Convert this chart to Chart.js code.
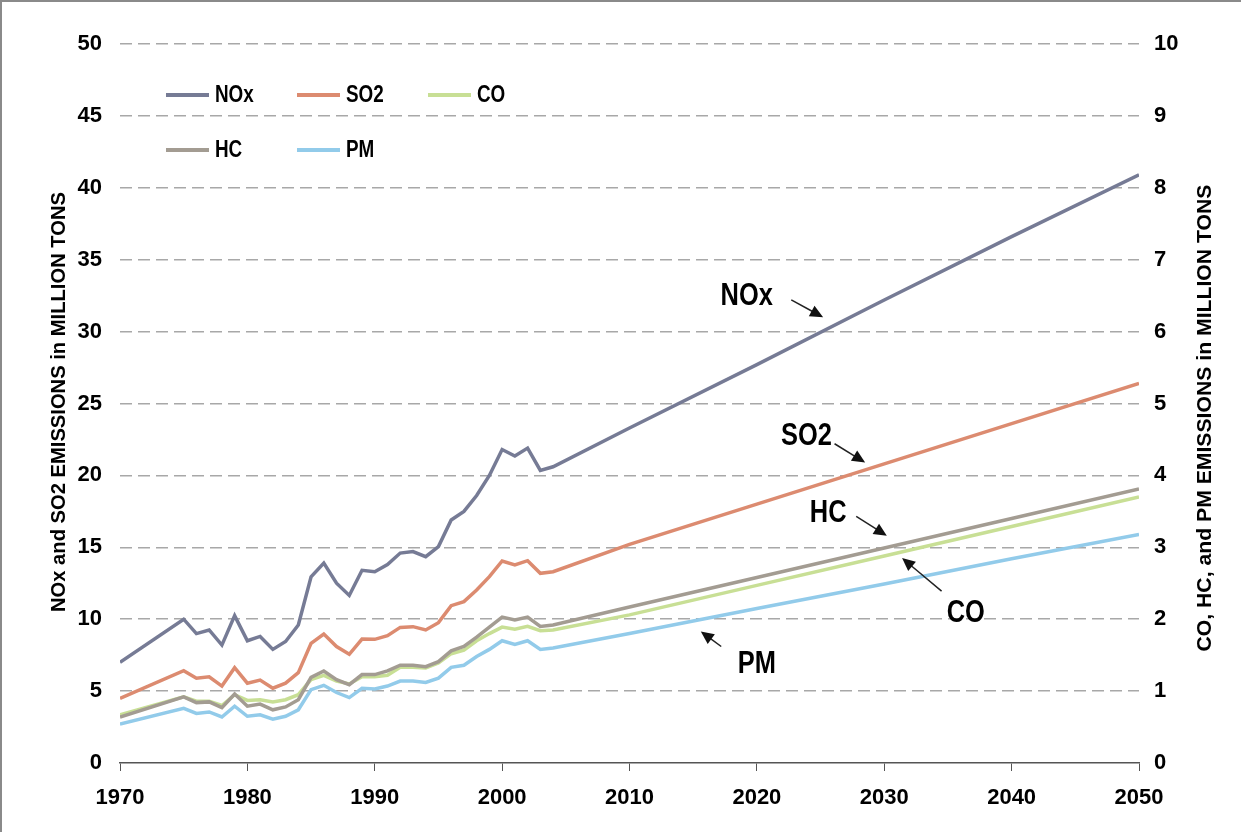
<!DOCTYPE html>
<html>
<head>
<meta charset="utf-8">
<script src="https://cdn.jsdelivr.net/npm/chart.js@4.4.1/dist/chart.umd.min.js"></script>
<style>
  html, body { margin: 0; padding: 0; background: #fff; }
  #wrap {
    position: relative;
    width: 1241px;
    height: 832px;
    box-sizing: border-box;
    border-top: 2px solid #8a8a8a;
    border-left: 2px solid #8a8a8a;
  }
</style>
</head>
<body>
<div id="wrap">
  <canvas id="emissions-chart" width="1239" height="830"></canvas>
</div>
<script>
const years = [
  1970, 1975, 1976, 1977, 1978, 1979, 1980, 1981, 1982, 1983, 1984,
  1985, 1986, 1987, 1988, 1989, 1990, 1991, 1992, 1993, 1994,
  1995, 1996, 1997, 1998, 1999, 2000, 2001, 2002, 2003, 2004,
  2010, 2020, 2030, 2040, 2050
];

// left axis, million tons
const noxValues = [
  7.0, 10.0, 9.0, 9.25, 8.2, 10.25, 8.5, 8.8, 7.9, 8.45, 9.6,
  12.95, 13.9, 12.5, 11.65, 13.4, 13.3, 13.8, 14.6, 14.7, 14.35,
  15.05, 16.9, 17.5, 18.6, 20.0, 21.8, 21.35, 21.9, 20.35, 20.6,
  23.3, 27.7, 32.2, 36.6, 40.9
];
const so2Values = [
  4.5, 6.42, 5.9, 6.0, 5.35, 6.63, 5.55, 5.77, 5.2, 5.55, 6.28,
  8.32, 8.97, 8.1, 7.56, 8.62, 8.6, 8.85, 9.43, 9.48, 9.25,
  9.76, 10.94, 11.22, 12.03, 12.96, 14.05, 13.77, 14.07, 13.19, 13.3,
  15.2, 18.0, 20.8, 23.6, 26.4
];

// right axis, million tons
const hcValues = [
  0.64, 0.92, 0.84, 0.85, 0.77, 0.96, 0.79, 0.82, 0.74, 0.78, 0.88,
  1.19, 1.28, 1.16, 1.09, 1.23, 1.23, 1.28, 1.36, 1.36, 1.34,
  1.41, 1.56, 1.62, 1.75, 1.89, 2.03, 1.99, 2.03, 1.90, 1.92,
  2.17, 2.58, 2.99, 3.40, 3.81
];
const coValues = [
  0.67, 0.92, 0.86, 0.86, 0.80, 0.95, 0.87, 0.88, 0.85, 0.88, 0.95,
  1.16, 1.22, 1.14, 1.10, 1.20, 1.20, 1.22, 1.33, 1.33, 1.32,
  1.39, 1.52, 1.57, 1.70, 1.80, 1.89, 1.86, 1.90, 1.84, 1.85,
  2.06, 2.47, 2.88, 3.29, 3.70
];
const pmValues = [
  0.54, 0.76, 0.69, 0.71, 0.64, 0.79, 0.65, 0.67, 0.61, 0.65, 0.74,
  1.02, 1.08, 0.98, 0.91, 1.04, 1.03, 1.07, 1.14, 1.14, 1.12,
  1.18, 1.33, 1.36, 1.48, 1.58, 1.70, 1.65, 1.70, 1.58, 1.60,
  1.80, 2.15, 2.49, 2.84, 3.18
];

const leftTitle = "NOx and SO2 EMISSIONS in MILLION TONS";
const rightTitle = "CO, HC, and PM EMISSIONS in MILLION TONS";

const FONT = "'Liberation Sans', Arial, sans-serif";
const NARROW = 0.82; // squeeze to look like a narrow face

function points(values) {
  return years.map(function(year, i) {
    return { x: year, y: values[i] };
  });
}

function series(label, values, color, axis) {
  return {
    label: label,
    data: points(values),
    borderColor: color,
    backgroundColor: color,
    borderWidth: 3.5,
    pointRadius: 0,
    tension: 0,
    yAxisID: axis
  };
}

// legend grid: [dataset label, column, row]
const legendLayout = [
  ["NOx", 0, 0], ["SO2", 1, 0], ["CO", 2, 0],
  ["HC", 0, 1], ["PM", 1, 1]
];

// callouts in data coordinates: text position, arrow start, arrow tip
const callouts = [
  { text: "NOx", axis: "y",  at: [2019.2, 32.5], from: [2022.7, 32.2], to: [2025.2, 31.0] },
  { text: "SO2", axis: "y",  at: [2023.9, 22.8], from: [2026.1, 22.2], to: [2028.5, 20.9] },
  { text: "HC",  axis: "y1", at: [2025.6, 3.48], from: [2027.8, 3.43], to: [2030.2, 3.16] },
  { text: "CO",  axis: "y1", at: [2036.4, 2.09], from: [2034.5, 2.39], to: [2031.4, 2.85] },
  { text: "PM",  axis: "y1", at: [2020.0, 1.39], from: [2017.2, 1.62], to: [2015.6, 1.83] }
];

function narrowText(ctx, text, x, y, align, rot, fitWidth) {
  ctx.save();
  ctx.translate(x, y);
  if (rot) ctx.rotate(rot);
  let sx = NARROW;
  if (fitWidth) sx = fitWidth / ctx.measureText(text).width;
  ctx.scale(sx, 1);
  ctx.textAlign = align;
  ctx.fillText(text, 0, 0);
  ctx.restore();
}

const extrasPlugin = {
  id: "extras",
  afterDraw: function(chart) {
    const ctx = chart.ctx;
    const area = chart.chartArea;
    const xs = chart.scales.x;

    // legend
    ctx.save();
    ctx.font = "bold 23px " + FONT;
    ctx.textBaseline = "middle";
    ctx.fillStyle = "#000";
    legendLayout.forEach(function(item) {
      const ds = chart.data.datasets.find(function(d) { return d.label === item[0]; });
      const x0 = area.left + 46 + item[1] * 131;
      const y0 = area.top + 51 + item[2] * 55;
      ctx.strokeStyle = ds.borderColor;
      ctx.lineWidth = 4;
      ctx.beginPath();
      ctx.moveTo(x0, y0);
      ctx.lineTo(x0 + 43, y0);
      ctx.stroke();
      narrowText(ctx, ds.label, x0 + 49, y0 + 1, "left");
    });
    ctx.restore();

    // callouts
    ctx.save();
    ctx.font = "bold 31px " + FONT;
    ctx.textBaseline = "middle";
    callouts.forEach(function(c) {
      const ys = chart.scales[c.axis];
      const tx = xs.getPixelForValue(c.at[0]);
      const ty = ys.getPixelForValue(c.at[1]);
      const x1 = xs.getPixelForValue(c.from[0]);
      const y1 = ys.getPixelForValue(c.from[1]);
      const x2 = xs.getPixelForValue(c.to[0]);
      const y2 = ys.getPixelForValue(c.to[1]);
      ctx.fillStyle = "#000";
      narrowText(ctx, c.text, tx, ty + 1, "center");

      const ang = Math.atan2(y2 - y1, x2 - x1);
      const head = 13;
      ctx.fillStyle = "#111";
      ctx.strokeStyle = "#222";
      ctx.lineWidth = 1.5;
      ctx.beginPath();
      ctx.moveTo(x1, y1);
      ctx.lineTo(x2 - Math.cos(ang) * head * 0.8, y2 - Math.sin(ang) * head * 0.8);
      ctx.stroke();
      ctx.beginPath();
      ctx.moveTo(x2, y2);
      ctx.lineTo(x2 - head * Math.cos(ang) + 6 * Math.sin(ang), y2 - head * Math.sin(ang) - 6 * Math.cos(ang));
      ctx.lineTo(x2 - head * Math.cos(ang) - 6 * Math.sin(ang), y2 - head * Math.sin(ang) + 6 * Math.cos(ang));
      ctx.closePath();
      ctx.fill();
    });
    ctx.restore();

    // axis titles, both read bottom to top
    ctx.save();
    ctx.fillStyle = "#000";
    ctx.textBaseline = "middle";
    ctx.font = "bold 20px " + FONT;
    narrowText(ctx, leftTitle, 57, 400, "center", -Math.PI / 2, 420);
    ctx.font = "bold 21px " + FONT;
    narrowText(ctx, rightTitle, chart.width - 36, 416, "center", -Math.PI / 2, 467);
    ctx.restore();
  }
};

const tickFont = { family: FONT, size: 22, weight: "bold" };

new Chart(document.getElementById("emissions-chart"), {
  type: "line",
  data: {
    datasets: [
      series("NOx", noxValues, "#767b95", "y"),
      series("SO2", so2Values, "#dc8b70", "y"),
      series("HC", hcValues, "#a39c92", "y1"),
      series("CO", coValues, "#c8df95", "y1"),
      series("PM", pmValues, "#92cbea", "y1")
    ]
  },
  options: {
    responsive: false,
    animation: false,
    layout: { padding: { top: 42, bottom: 0, left: 0, right: 0 } },
    plugins: {
      legend: { display: false },
      tooltip: { enabled: false }
    },
    scales: {
      x: {
        type: "linear",
        min: 1970,
        max: 2050,
        afterFit: function(scale) { scale.height = 69; },
        ticks: {
          stepSize: 10,
          color: "#000",
          font: tickFont,
          padding: 14,
          callback: function(value) { return String(value); }
        },
        grid: {
          drawOnChartArea: false,
          drawTicks: true,
          tickLength: 8,
          color: "#555",
          lineWidth: 1
        },
        border: { display: true, color: "#555", width: 1.5 }
      },
      y: {
        position: "left",
        min: 0,
        max: 50,
        afterFit: function(scale) { scale.width = 118; },
        ticks: {
          stepSize: 5,
          color: "#000",
          font: tickFont,
          padding: 18
        },
        grid: {
          drawTicks: false,
          color: function(c) { return c.tick.value === 0 ? "rgba(0,0,0,0)" : "#a8a8a8"; },
          lineWidth: 1.5
        },
        border: { display: false, dash: [12, 6] }
      },
      y1: {
        position: "right",
        min: 0,
        max: 10,
        afterFit: function(scale) { scale.width = 102; },
        ticks: {
          stepSize: 1,
          color: "#000",
          font: tickFont,
          padding: 15
        },
        grid: { display: false, drawTicks: false },
        border: { display: false }
      }
    }
  },
  plugins: [extrasPlugin]
});
</script>
</body>
</html>
